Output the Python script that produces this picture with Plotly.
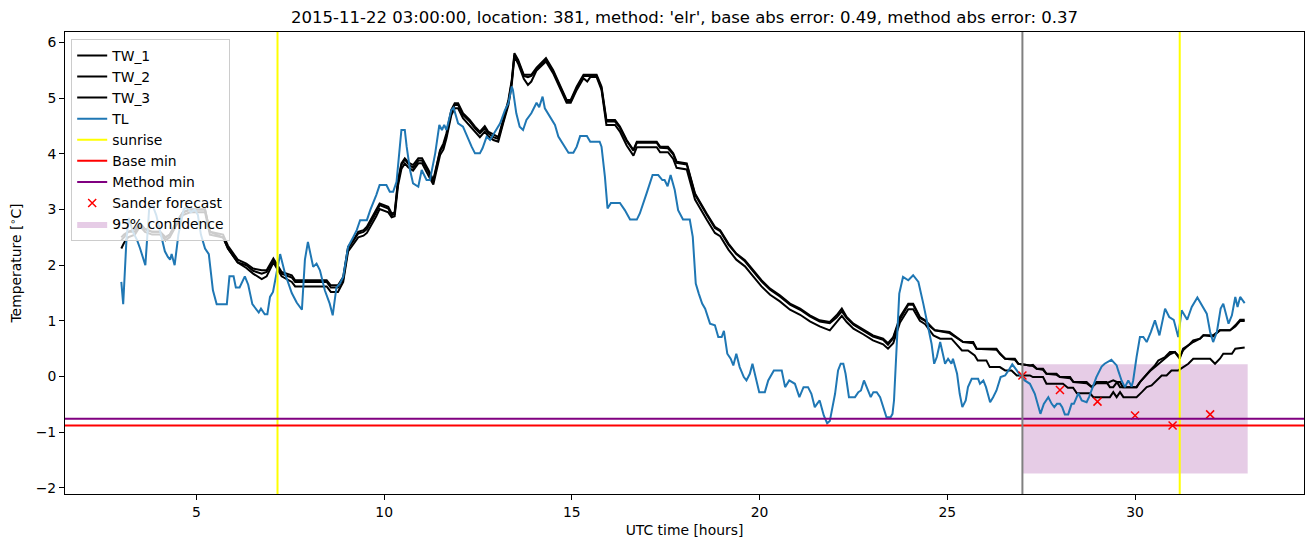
import plotly.graph_objects as go

# ---------------- data ----------------
tl_hours = [3.00, 3.05, 3.14, 3.20, 3.31, 3.42, 3.50, 3.55, 3.64, 3.74, 3.82, 3.93, 4.03, 4.16, 4.24, 4.30, 4.34, 4.42, 4.52, 4.66,
            4.75, 4.85, 4.96, 5.04, 5.12, 5.23, 5.33, 5.44, 5.54, 5.81, 5.88, 5.99, 6.05, 6.15, 6.29, 6.38, 6.49, 6.60, 6.66, 6.72,
            6.82, 6.89, 6.96, 7.04, 7.23, 7.36, 7.54, 7.67, 7.81, 7.89, 7.97, 8.11, 8.20, 8.29, 8.42, 8.55, 8.63, 8.73, 8.82, 8.91,
            9.04, 9.18, 9.27, 9.36, 9.54, 9.63, 9.71, 9.79, 9.88, 10.06, 10.15, 10.24, 10.33, 10.40, 10.46, 10.55, 10.60, 10.69, 10.77, 10.91,
            11.00, 11.13, 11.22, 11.36, 11.47, 11.54, 11.60, 11.66, 11.79, 11.85, 11.97, 12.10, 12.19, 12.33, 12.42, 12.55, 12.62, 12.73, 12.82, 13.09,
            13.22, 13.31, 13.40, 13.43, 13.52, 13.61, 13.70, 13.79, 13.92, 14.06, 14.13, 14.22, 14.28, 14.41, 14.55, 14.64, 14.77, 14.91, 15.04, 15.13,
            15.22, 15.40, 15.49, 15.74, 15.79, 15.88, 15.95, 16.04, 16.28, 16.41, 16.55, 16.73, 16.81, 16.92, 16.99, 17.15, 17.30, 17.41, 17.47, 17.55,
            17.63, 17.74, 17.83, 17.96, 18.14, 18.22, 18.30, 18.38, 18.47, 18.55, 18.68, 18.81, 18.90, 18.99, 19.05, 19.14, 19.23, 19.30, 19.38, 19.47,
            19.58, 19.65, 19.74, 19.81, 19.90, 19.99, 20.14, 20.23, 20.38, 20.59, 20.68, 20.79, 20.94, 21.06, 21.17, 21.29, 21.38, 21.47, 21.53, 21.60,
            21.71, 21.80, 21.87, 22.01, 22.09, 22.16, 22.23, 22.29, 22.38, 22.54, 22.63, 22.70, 22.78, 22.86, 22.96, 23.03, 23.12, 23.21, 23.29, 23.38,
            23.49, 23.54, 23.58, 23.65, 23.72, 23.82, 23.96, 24.09, 24.23, 24.36, 24.49, 24.58, 24.65, 24.72, 24.81, 24.94, 25.02, 25.11, 25.15, 25.26,
            25.33, 25.40, 25.49, 25.55, 25.65, 25.82, 25.87, 25.96, 26.03, 26.14, 26.22, 26.31, 26.42, 26.54, 26.63, 26.73, 26.85, 26.94, 27.06, 27.20,
            27.33, 27.42, 27.48, 27.57, 27.69, 27.78, 27.85, 27.92, 28.00, 28.06, 28.13, 28.22, 28.31, 28.37, 28.49, 28.58, 28.71, 28.78, 28.88, 28.97,
            29.11, 29.19, 29.37, 29.51, 29.55, 29.64, 29.73, 29.82, 29.91, 29.95, 30.04, 30.13, 30.22, 30.31, 30.42, 30.53, 30.65, 30.80, 30.91, 31.03,
            31.15, 31.24, 31.39, 31.51, 31.66, 31.77, 31.91, 32.00, 32.08, 32.18, 32.28, 32.35, 32.49, 32.58, 32.67, 32.73, 32.80, 32.92]
tl_values = [1.70, 1.30, 2.50, 2.85, 2.60, 2.45, 2.30, 2.20, 2.00, 3.00, 3.10, 2.90, 2.60, 2.25, 2.15, 2.10, 2.20, 2.00, 2.55, 3.00,
             3.05, 2.95, 3.00, 2.90, 2.55, 2.30, 2.20, 1.55, 1.30, 1.30, 1.80, 1.80, 1.60, 1.60, 1.80, 1.65, 1.30, 1.20, 1.15, 1.22,
             1.12, 1.12, 1.43, 1.52, 2.20, 1.85, 1.50, 1.33, 1.20, 2.10, 2.42, 1.97, 2.03, 1.91, 1.55, 1.31, 1.10, 1.60, 1.67, 1.79,
             2.33, 2.51, 2.63, 2.81, 2.81, 2.99, 3.11, 3.26, 3.44, 3.44, 3.32, 3.32, 3.50, 4.07, 4.43, 4.43, 4.13, 3.71, 3.47, 3.41,
             3.71, 3.53, 3.53, 4.01, 4.52, 4.43, 4.52, 4.43, 4.79, 4.83, 4.55, 4.49, 4.34, 4.13, 4.01, 4.01, 4.10, 4.31, 4.25, 4.55,
             4.79, 4.91, 5.21, 5.15, 4.73, 4.49, 4.43, 4.61, 4.73, 4.92, 4.84, 5.03, 4.82, 4.67, 4.52, 4.31, 4.16, 4.02, 4.02, 4.13,
             4.32, 4.32, 4.22, 4.22, 4.13, 3.59, 3.02, 3.12, 3.12, 2.99, 2.82, 2.82, 2.93, 3.17, 3.29, 3.62, 3.62, 3.53, 3.53, 3.42,
             3.62, 3.35, 2.99, 2.82, 2.82, 2.51, 1.67, 1.49, 1.31, 1.22, 0.95, 0.92, 0.71, 0.71, 0.82, 0.41, 0.32, 0.20, 0.41, 0.17,
             -0.01, -0.07, 0.05, 0.23, -0.01, -0.28, -0.28, -0.07, 0.11, 0.11, -0.19, -0.07, -0.13, -0.37, -0.19, -0.19, -0.31, -0.55, -0.49, -0.43,
             -0.70, -0.84, -0.80, -0.31, 0.11, 0.23, 0.23, 0.05, -0.37, -0.37, -0.28, -0.25, -0.07, -0.19, -0.37, -0.28, -0.28, -0.37, -0.55, -0.73,
             -0.73, -0.67, -0.43, 0.65, 1.49, 1.79, 1.73, 1.82, 1.70, 1.31, 0.89, 0.59, 0.23, 0.35, 0.62, 0.23, 0.32, 0.23, 0.32, 0.05,
             -0.31, -0.55, -0.43, -0.19, -0.04, -0.04, -0.13, -0.07, -0.19, -0.46, -0.37, -0.25, -0.01, 0.02, 0.11, 0.22, 0.11, 0.02, -0.07, -0.13,
             -0.31, -0.55, -0.67, -0.49, -0.37, -0.49, -0.55, -0.49, -0.49, -0.55, -0.68, -0.68, -0.49, -0.49, -0.30, -0.43, -0.46, -0.36, -0.19, -0.01,
             0.18, 0.23, 0.30, 0.20, 0.11, -0.07, -0.19, -0.07, -0.18, -0.07, 0.35, 0.71, 0.71, 0.62, 0.80, 1.01, 0.74, 1.22, 1.07, 1.02,
             0.71, 1.19, 1.02, 1.25, 1.42, 1.28, 1.13, 0.80, 0.62, 0.80, 1.22, 1.31, 0.95, 1.10, 1.43, 1.25, 1.43, 1.32]

# TW series: common early part
tw_early_hours = [3.00, 3.07, 3.18, 3.36, 3.50, 3.63, 3.82, 4.03, 4.18, 4.29, 4.45, 4.64, 4.83, 5.23, 5.36, 5.71, 5.84, 6.10, 6.33, 6.51,
                  6.74, 6.87, 7.05, 7.27, 7.54, 7.63, 8.47, 8.58, 8.77, 8.91, 9.04, 9.18, 9.31, 9.45, 9.54, 9.79, 9.88, 10.11, 10.20, 10.28,
                  10.37, 10.46, 10.55, 10.64, 10.77, 10.91, 11.01, 11.18, 11.31, 11.49, 11.58, 11.66, 11.79, 11.88, 11.97, 12.10, 12.28, 12.42, 12.55, 12.68,
                  12.77, 12.91, 13.04, 13.17, 13.31, 13.40, 13.47, 13.57, 13.72, 13.83, 13.92, 14.06, 14.31, 14.50, 14.73, 14.86, 14.97, 15.13, 15.31, 15.41,
                  15.49, 15.66, 15.79, 15.92, 16.15, 16.28, 16.46, 16.64, 16.73, 17.26, 17.35, 17.56, 17.70, 17.79, 18.06, 18.28, 18.59, 18.81, 18.95, 19.17,
                  19.38, 19.61, 19.83, 20.05, 20.28, 20.54, 20.81, 21.08, 21.34, 21.60, 21.87, 22.05, 22.19, 22.32, 22.50, 22.76, 23.02, 23.29, 23.42, 23.56,
                  23.74, 23.96, 24.09, 24.27, 24.41]
tw1_early = [2.45, 2.50, 2.60, 2.60, 2.75, 2.65, 2.60, 2.60, 2.50, 2.55, 2.75, 2.95, 3.00, 3.00, 2.60, 2.55, 2.35, 2.10, 2.03, 1.94,
             1.91, 1.91, 2.12, 1.88, 1.82, 1.73, 1.73, 1.64, 1.64, 1.79, 2.33, 2.45, 2.60, 2.63, 2.69, 2.99, 3.11, 3.05, 2.93, 2.95,
             3.53, 3.83, 3.92, 3.85, 3.80, 3.92, 3.92, 3.71, 3.53, 4.07, 4.19, 4.37, 4.79, 4.91, 4.91, 4.73, 4.61, 4.49, 4.40, 4.50,
             4.40, 4.35, 4.30, 4.61, 4.97, 5.33, 5.81, 5.69, 5.42, 5.42, 5.42, 5.55, 5.72, 5.51, 5.18, 4.97, 4.97, 5.21, 5.42, 5.42,
             5.42, 5.42, 5.21, 4.61, 4.61, 4.49, 4.25, 4.07, 4.22, 4.22, 4.13, 4.13, 4.01, 3.86, 3.83, 3.29, 2.93, 2.69, 2.63, 2.39,
             2.21, 2.09, 1.91, 1.73, 1.58, 1.46, 1.31, 1.22, 1.10, 1.01, 0.98, 1.10, 1.22, 1.07, 0.95, 0.85, 0.74, 0.68, 0.60, 0.71,
             1.07, 1.31, 1.31, 1.07, 1.01]
tw2_early = [2.50, 2.55, 2.60, 2.65, 2.75, 2.65, 2.60, 2.60, 2.50, 2.55, 2.75, 2.95, 3.00, 3.00, 2.60, 2.50, 2.30, 2.05, 2.00, 1.90,
             1.85, 1.88, 2.08, 1.85, 1.78, 1.70, 1.70, 1.60, 1.60, 1.75, 2.30, 2.45, 2.57, 2.60, 2.65, 2.95, 3.08, 3.02, 2.90, 2.92,
             3.50, 3.80, 3.90, 3.82, 3.75, 3.88, 3.88, 3.68, 3.50, 4.05, 4.15, 4.33, 4.75, 4.88, 4.88, 4.70, 4.58, 4.46, 4.37, 4.46,
             4.37, 4.30, 4.27, 4.58, 4.93, 5.30, 5.78, 5.66, 5.40, 5.38, 5.40, 5.52, 5.70, 5.48, 5.15, 4.95, 4.95, 5.18, 5.40, 5.40,
             5.40, 5.40, 5.18, 4.58, 4.58, 4.47, 4.23, 4.06, 4.20, 4.20, 4.11, 4.10, 3.99, 3.84, 3.81, 3.27, 2.91, 2.67, 2.61, 2.37,
             2.20, 2.07, 1.89, 1.71, 1.56, 1.44, 1.29, 1.20, 1.08, 0.99, 0.96, 1.06, 1.17, 1.05, 0.93, 0.83, 0.72, 0.66, 0.57, 0.69,
             1.03, 1.29, 1.29, 1.05, 1.00]
tw3_early = [2.30, 2.40, 2.50, 2.55, 2.70, 2.60, 2.55, 2.55, 2.45, 2.50, 2.70, 2.90, 2.95, 2.95, 2.55, 2.50, 2.30, 2.05, 1.95, 1.85,
             1.75, 1.80, 2.05, 1.80, 1.70, 1.62, 1.62, 1.52, 1.52, 1.70, 2.25, 2.38, 2.50, 2.53, 2.58, 2.88, 3.01, 2.95, 2.86, 2.88,
             3.43, 3.73, 3.83, 3.76, 3.70, 3.83, 3.83, 3.61, 3.45, 3.98, 4.08, 4.28, 4.70, 4.82, 4.82, 4.64, 4.50, 4.40, 4.30, 4.40,
             4.32, 4.25, 4.22, 4.55, 4.88, 5.25, 5.75, 5.62, 5.35, 5.24, 5.30, 5.50, 5.66, 5.45, 5.12, 4.92, 4.92, 5.15, 5.36, 5.30,
             5.38, 5.38, 5.15, 4.52, 4.52, 4.40, 4.15, 3.97, 4.12, 4.12, 4.03, 4.03, 3.91, 3.75, 3.72, 3.18, 2.82, 2.58, 2.52, 2.28,
             2.10, 1.98, 1.80, 1.62, 1.47, 1.35, 1.20, 1.11, 0.99, 0.90, 0.83, 0.97, 1.09, 0.98, 0.86, 0.76, 0.65, 0.58, 0.50, 0.60,
             0.97, 1.21, 1.21, 1.00, 0.94]

# TW_1 / TW_2 late part (shared times)
tw12_late_hours = [24.54, 24.67, 25.06, 25.42, 25.69, 25.78, 26.31, 26.40, 26.54, 26.80, 26.89, 27.20, 27.28, 27.38, 27.55, 27.64, 27.91, 28.00,
                   28.27, 28.36, 28.71, 28.85, 28.97, 29.24, 29.33, 29.42, 29.52, 29.60, 29.68, 30.04, 30.13, 30.27, 30.40, 30.53, 30.62, 30.80,
                   30.93, 31.06, 31.19, 31.28, 31.42, 31.55, 31.73, 31.82, 32.08, 32.26, 32.53, 32.67, 32.80, 32.92]
tw1_late = [0.92, 0.83, 0.80, 0.62, 0.62, 0.50, 0.50, 0.41, 0.32, 0.32, 0.23, 0.20, 0.21, 0.14, 0.14, 0.05, 0.05, -0.01,
            -0.01, -0.10, -0.10, -0.19, -0.10, -0.10, -0.19, -0.19, -0.10, -0.10, -0.19, -0.19, -0.10, 0.02, 0.11, 0.20, 0.29, 0.35,
            0.44, 0.44, 0.32, 0.50, 0.56, 0.65, 0.68, 0.74, 0.74, 0.83, 0.83, 0.92, 1.02, 1.02]
tw2_late = [0.90, 0.83, 0.78, 0.62, 0.60, 0.50, 0.48, 0.41, 0.32, 0.30, 0.23, 0.20, 0.19, 0.14, 0.12, 0.05, 0.03, -0.01,
            -0.03, -0.10, -0.12, -0.19, -0.12, -0.12, -0.10, -0.07, -0.10, -0.19, -0.19, -0.19, -0.10, 0.00, 0.10, 0.17, 0.22, 0.32,
            0.40, 0.44, 0.35, 0.47, 0.56, 0.62, 0.68, 0.74, 0.72, 0.83, 0.83, 0.90, 1.00, 1.00]

# TW_3 late part
tw3_late_hours = [24.54, 24.63, 24.81, 25.11, 25.39, 25.55, 25.73, 25.81, 26.04, 26.13, 26.40, 26.54, 26.71, 26.85, 27.20, 27.28, 27.55, 27.64,
                  28.08, 28.21, 28.35, 28.45, 28.80, 28.89, 29.33, 29.42, 29.51, 29.60, 29.69, 30.04, 30.18, 30.31, 30.44, 30.58, 30.71, 30.84,
                  30.97, 31.15, 31.28, 31.42, 31.55, 32.00, 32.13, 32.26, 32.35, 32.58, 32.67, 32.92]
tw3_late = [0.82, 0.74, 0.68, 0.68, 0.47, 0.47, 0.38, 0.29, 0.29, 0.17, 0.17, 0.11, 0.11, 0.02, 0.02, -0.01, -0.01, -0.13,
            -0.13, -0.20, -0.20, -0.30, -0.30, -0.37, -0.37, -0.28, -0.37, -0.28, -0.37, -0.37, -0.28, -0.19, -0.16, -0.07, 0.02, 0.02,
            0.11, 0.11, 0.17, 0.23, 0.32, 0.32, 0.23, 0.32, 0.41, 0.41, 0.50, 0.52]

sunrise_hours = [7.16, 31.19]
base_min = -0.88
method_min = -0.76
forecast_start = 27.0
forecast_hours = [27, 28, 29, 30, 31, 32]
forecast_values = [0.02, -0.24, -0.45, -0.70, -0.88, -0.68]
conf_hours = [27.0, 33.0]
conf_low = -1.74
conf_high = 0.22

title_text = "2015-11-22 03:00:00, location: 381, method: 'elr', base abs error: 0.49, method abs error: 0.37"

assert len(tl_hours) == len(tl_values)
assert len(tw_early_hours) == len(tw1_early) == len(tw2_early) == len(tw3_early)
assert len(tw12_late_hours) == len(tw1_late) == len(tw2_late)
assert len(tw3_late_hours) == len(tw3_late)

# ---------------- figure ----------------
FONT = "DejaVu Sans"
FS = 13.9
fig = go.Figure()

# confidence band (bottom layer)
fig.add_trace(go.Scatter(
    x=[conf_hours[0], conf_hours[1], conf_hours[1], conf_hours[0], conf_hours[0]],
    y=[conf_low, conf_low, conf_high, conf_high, conf_low],
    mode="lines", fill="toself", fillcolor="rgba(128,0,128,0.2)",
    line=dict(width=0, color="rgba(128,0,128,0.2)"),
    name="95% confidence", legendrank=9, hoverinfo="skip"))

tw12_hours = tw_early_hours + tw12_late_hours
tw3_hours = tw_early_hours + tw3_late_hours
for name, xs, ys, rank in [("TW_1", tw12_hours, tw1_early + tw1_late, 1),
                           ("TW_2", tw12_hours, tw2_early + tw2_late, 2),
                           ("TW_3", tw3_hours, tw3_early + tw3_late, 3)]:
    fig.add_trace(go.Scatter(x=xs, y=ys, mode="lines", name=name, legendrank=rank,
                             line=dict(color="black", width=2)))

fig.add_trace(go.Scatter(x=tl_hours, y=tl_values, mode="lines", name="TL", legendrank=4,
                         line=dict(color="#1f77b4", width=2)))

# legend-only entries for reference lines
fig.add_trace(go.Scatter(x=[None], y=[None], mode="lines", name="sunrise", legendrank=5,
                         line=dict(color="yellow", width=2)))
fig.add_trace(go.Scatter(x=[None], y=[None], mode="lines", name="Base min", legendrank=6,
                         line=dict(color="red", width=2)))
fig.add_trace(go.Scatter(x=[None], y=[None], mode="lines", name="Method min", legendrank=7,
                         line=dict(color="purple", width=2)))

fig.add_trace(go.Scatter(x=forecast_hours, y=forecast_values, mode="markers", name="Sander forecast",
                         legendrank=8,
                         marker=dict(symbol="x-thin", size=8, color="red",
                                     line=dict(color="red", width=1.5))))

# reference lines as shapes
for h in sunrise_hours:
    fig.add_shape(type="line", xref="x", yref="paper", x0=h, x1=h, y0=0, y1=1,
                  line=dict(color="yellow", width=2), layer="above")
fig.add_shape(type="line", xref="paper", yref="y", x0=0, x1=1, y0=base_min, y1=base_min,
              line=dict(color="red", width=2), layer="above")
fig.add_shape(type="line", xref="paper", yref="y", x0=0, x1=1, y0=method_min, y1=method_min,
              line=dict(color="purple", width=2), layer="above")
fig.add_shape(type="line", xref="x", yref="paper", x0=forecast_start, x1=forecast_start, y0=0, y1=1,
              line=dict(color="grey", width=2), layer="above")

axis_common = dict(showline=True, linecolor="black", linewidth=1, mirror=True,
                   ticks="outside", ticklen=5, tickwidth=1, tickcolor="black",
                   showgrid=False, zeroline=False,
                   tickfont=dict(family=FONT, size=FS, color="black"))

fig.update_layout(
    width=1313, height=547,
    margin=dict(l=65, r=9, t=32, b=53),
    paper_bgcolor="white", plot_bgcolor="white",
    font=dict(family=FONT, size=FS, color="black"),
    title=dict(text=title_text, x=0.5, xref="paper", y=1 - 17 / 547, yref="container",
               xanchor="center", yanchor="middle",
               font=dict(family=FONT, size=16.5, color="black")),
    xaxis=dict(range=[1.5, 34.5], tickvals=[5, 10, 15, 20, 25, 30],
               title=dict(text="UTC time [hours]", standoff=6,
                          font=dict(family=FONT, size=FS, color="black")),
               **axis_common),
    yaxis=dict(range=[-2.11, 6.19], tickvals=[-2, -1, 0, 1, 2, 3, 4, 5, 6],
               title=dict(text="Temperature [<sup>∘</sup>C]", standoff=10,
                          font=dict(family=FONT, size=FS, color="black")),
               **axis_common),
    legend=dict(x=0.005, y=0.985, xanchor="left", yanchor="top",
                bgcolor="rgba(255,255,255,0.8)", bordercolor="#cccccc", borderwidth=1,
                font=dict(family=FONT, size=FS, color="black"),
                tracegroupgap=0, itemwidth=30),
    showlegend=True,
)

fig.write_html("out.html", config={"displayModeBar": False})
